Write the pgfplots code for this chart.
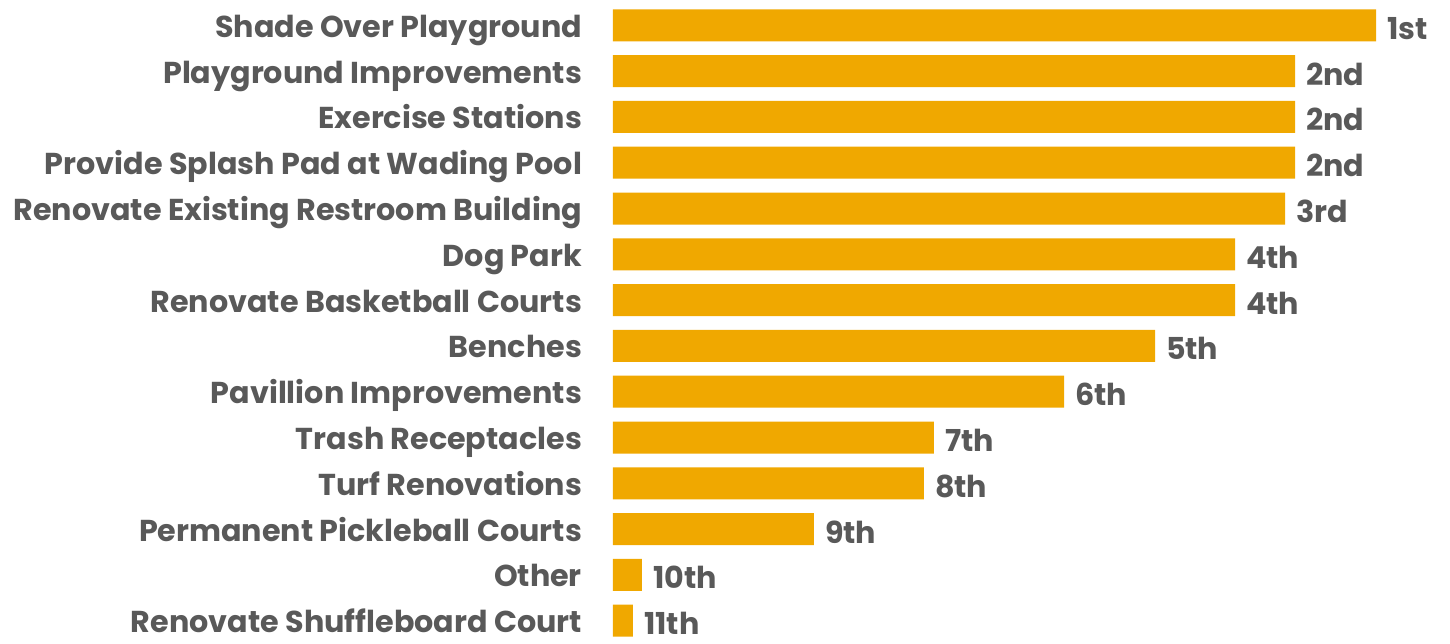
\documentclass[border=0pt]{standalone}
\usepackage{pgfplots}
\pgfplotsset{compat=1.18}
\usepackage{fontspec}
\setmainfont{Poppins}
\definecolor{barc}{HTML}{F0A800}
\definecolor{txt}{HTML}{595959}
\begin{document}
\begin{tikzpicture}
\begin{axis}[
  name=ax,
  scale only axis,
  width=381.5pt, height=320.6pt,
  xbar, bar width=16pt,
  xmin=0, xmax=763,
  ymin=-0.5, ymax=13.5,
  y dir=reverse,
  axis line style={draw=none},
  major tick length=0pt,
  xtick=\empty,
  ytick={0,...,13},
  yticklabels={Shade Over Playground, Playground Improvements, Exercise Stations, Provide Splash Pad at Wading Pool, Renovate Existing Restroom Building, Dog Park, Renovate Basketball Courts, Benches, Pavillion Improvements, Trash Receptacles, Turf Renovations, Permanent Pickleball Courts, Other, Renovate Shuffleboard Court},
  yticklabel style={anchor=east, xshift=-12pt, yshift=-2.5pt, font=\fontsize{15.1}{17}\selectfont\bfseries, text=txt, text height=0.7em, text depth=0pt},
  point meta=explicit symbolic,
  nodes near coords,
  nodes near coords align={horizontal},
  every node near coord/.append style={anchor=west, xshift=2pt, yshift=-3.5pt, font=\fontsize{15.1}{17}\selectfont\bfseries, text=txt, text height=0.7em, text depth=0pt},
  clip=false,
]
\addplot[fill=barc, draw=none] coordinates {
  (763,0) [1st]
  (682,1) [2nd]
  (682,2) [2nd]
  (682,3) [2nd]
  (672,4) [3rd]
  (622,5) [4th]
  (622,6) [4th]
  (542,7) [5th]
  (451,8) [6th]
  (321,9) [7th]
  (311,10) [8th]
  (201,11) [9th]
  (29,12) [10th]
  (20,13) [11th]
};
\end{axis}
\path[use as bounding box] ([shift={(-306.5pt,1.2pt)}]ax.north west) rectangle ([shift={(418.5pt,-316.8pt)}]ax.north west);
\end{tikzpicture}
\end{document}
